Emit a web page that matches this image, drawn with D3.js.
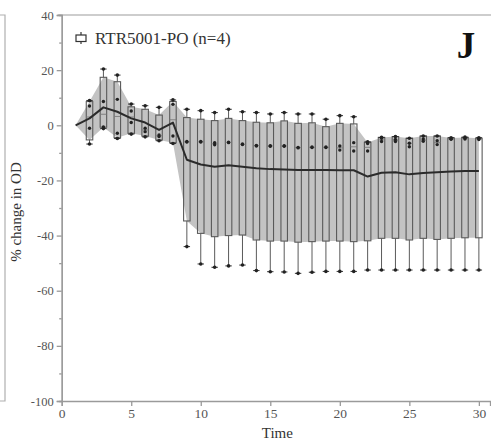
<!DOCTYPE html>
<html>
<head>
<meta charset="utf-8">
<script src="https://cdn.jsdelivr.net/npm/d3@7"></script>
<style>
  html, body { margin: 0; padding: 0; background: #fff; }
  svg { display: block; }
</style>
</head>
<body>
<svg id="chart" width="491" height="445"></svg>
<script>
// Series label and panel letter
const seriesName = "RTR5001-PO (n=4)";
const panelLetter = "J";

// Baseline reading (time 1) before the box-plotted samples
const startTime = 1;
const startValue = 0;

// Times with a box plot
const times = [2, 3, 4, 5, 6, 7, 8, 9, 10, 11, 12, 13, 14, 15, 16, 17, 18, 19, 20, 21, 22, 23, 24, 25, 26, 27, 28, 29, 30];

// Box plot statistics (% change in OD)
const maxVals = [9.0, 20.4, 18.2, 7.7, 7.1, 6.5, 9.2, 5.8, 5.3, 4.6, 5.8, 4.9, 4.6, 4.1, 4.6, 4.1, 4.1, 2.2, 3.5, 3.1, -6.0, -4.4, -4.1, -4.7, -3.9, -3.9, -4.5, -4.3, -4.5];
const q3Vals = [8.6, 17.4, 15.8, 6.7, 5.8, 3.7, 8.6, 2.8, 2.2, 1.7, 2.5, 1.7, 1.1, 0.9, 1.6, 0.7, 0.9, -0.5, 0.7, 0.5, -6.2, -4.4, -4.1, -4.7, -3.9, -3.9, -4.6, -4.4, -4.7];
const medianVals = [3.0, 4.0, 3.2, 3.0, -1.7, -3.8, 2.0, -6.0, -6.0, -6.7, -6.2, -6.9, -7.4, -7.5, -7.5, -8.1, -8.0, -8.0, -8.2, -7.8, -8.0, -5.3, -5.5, -6.5, -5.4, -6.3, -5.0, -4.8, -5.0];
const q1Vals = [-5.3, -0.7, -4.5, -2.9, -3.9, -5.3, -6.3, -34.7, -39.2, -40.4, -40.0, -39.8, -41.6, -42.0, -42.0, -42.4, -42.2, -42.0, -42.0, -42.2, -41.9, -41.0, -41.0, -41.6, -41.0, -41.4, -41.0, -40.8, -40.8];
const minVals = [-6.8, -1.2, -4.8, -3.2, -4.2, -5.6, -6.6, -44.0, -50.3, -51.5, -51.0, -50.7, -52.7, -53.1, -53.2, -53.7, -53.3, -53.0, -53.0, -53.0, -52.5, -52.5, -52.5, -52.5, -52.5, -52.5, -52.5, -52.5, -52.5];

// The two middle observations at each time
const innerA = [7.0, 8.6, 9.4, 5.2, -1.1, -3.5, 7.6, -5.9, -5.9, -6.3, -6.1, -6.8, -7.3, -7.4, -7.4, -8.0, -7.9, -7.9, -7.5, -6.3, -6.6, -4.7, -5.1, -6.5, -5.0, -5.6, -4.9, -4.6, -4.8];
const innerB = [-1.1, -0.6, -2.9, 1.0, -2.3, -4.1, -3.9, -6.1, -6.1, -7.1, -6.3, -7.0, -7.5, -7.6, -7.6, -8.2, -8.1, -8.1, -9.0, -9.3, -9.3, -5.9, -5.9, -7.8, -5.8, -7.0, -5.1, -5.0, -5.2];

// Mean response, times 1..30
const meanTimes = d3.range(1, 31);
const meanVals = [0, 2.5, 6.5, 4.9, 2.5, 1.0, -1.7, 1.0, -12.5, -14.2, -15.0, -14.5, -15.0, -15.6, -15.9, -16.0, -16.2, -16.2, -16.2, -16.3, -16.3, -18.6, -17.2, -17.0, -17.8, -17.3, -17.0, -16.8, -16.6, -16.6];

// Axis ticks
const yMajorTicks = [40, 20, 0, -20, -40, -60, -80, -100];
const yMinorTicks = [30, 10, -10, -30, -50, -70, -90];
const xMajorTicks = [0, 5, 10, 15, 20, 25, 30];

const serif = '"Liberation Serif", "Times New Roman", "DejaVu Serif", serif';

const svg = d3.select("#chart");
const W = 491, H = 445;
const m = { left: 61.7, right: 1, top: 15, bottom: 44 };

const x = d3.scaleLinear().domain([0, 30.8]).range([m.left, W - m.right]);
const y = d3.scaleLinear().domain([-100, 40]).range([H - m.bottom, m.top]);

const axisColor = "#9a9a9a";
const boxStroke = "#5a5a5a";

// Edge of the neighbouring panel on the left
svg.append("path")
  .attr("d", `M0,${y(40)}H5V${y(-100)}H0`)
  .attr("fill", "none").attr("stroke", "#b0b0b0").attr("stroke-width", 1.2);

// Top frame line
svg.append("line")
  .attr("x1", m.left - 4).attr("x2", W)
  .attr("y1", y(40)).attr("y2", y(40))
  .attr("stroke", "#bdbdbd").attr("stroke-width", 1.5);

// Rows used by the band and boxes
const rows = times.map((t, i) => ({
  t, max: maxVals[i], q3: q3Vals[i], med: medianVals[i], q1: q1Vals[i], min: minVals[i],
  a: innerA[i], b: innerB[i]
}));

// Interquartile band
const bandRows = [{ t: startTime, q1: startValue, q3: startValue }].concat(rows);
svg.append("path")
  .datum(bandRows)
  .attr("fill", "#c3c3c3")
  .attr("d", d3.area().x(d => x(d.t)).y0(d => y(d.q1)).y1(d => y(d.q3)));

// Box plots
const bw = 6.5;
const g = svg.append("g").selectAll("g").data(rows).join("g");

// whiskers
g.append("line")
  .attr("x1", d => x(d.t)).attr("x2", d => x(d.t))
  .attr("y1", d => y(d.max)).attr("y2", d => y(d.q3))
  .attr("stroke", boxStroke).attr("stroke-width", 1);
g.append("line")
  .attr("x1", d => x(d.t)).attr("x2", d => x(d.t))
  .attr("y1", d => y(d.q1)).attr("y2", d => y(d.min))
  .attr("stroke", boxStroke).attr("stroke-width", 1);

// boxes
g.append("rect")
  .attr("x", d => x(d.t) - bw / 2)
  .attr("width", bw)
  .attr("y", d => y(d.q3))
  .attr("height", d => Math.max(0.5, y(d.q1) - y(d.q3)))
  .attr("fill", "none")
  .attr("stroke", boxStroke).attr("stroke-width", 1.1);

// medians
g.append("line")
  .attr("x1", d => x(d.t) - bw / 2).attr("x2", d => x(d.t) + bw / 2)
  .attr("y1", d => y(d.med)).attr("y2", d => y(d.med))
  .attr("stroke", "#7a7a7a").attr("stroke-width", 0.9);

// whisker end markers
for (const key of ["max", "min"]) {
  g.append("line")
    .attr("x1", d => x(d.t) - 3.2).attr("x2", d => x(d.t) + 3.2)
    .attr("y1", d => y(d[key])).attr("y2", d => y(d[key]))
    .attr("stroke", "#333").attr("stroke-width", 1);
  g.append("circle")
    .attr("cx", d => x(d.t)).attr("cy", d => y(d[key]))
    .attr("r", 1.8).attr("fill", "#222");
}

// inner observations
for (const key of ["a", "b"]) {
  g.append("circle")
    .attr("cx", d => x(d.t)).attr("cy", d => y(d[key]))
    .attr("r", 1.7).attr("fill", "#222");
}

// Mean line
svg.append("path")
  .datum(meanTimes.map((t, i) => [t, meanVals[i]]))
  .attr("fill", "none")
  .attr("stroke", "#2b2b2b").attr("stroke-width", 2)
  .attr("stroke-linejoin", "round")
  .attr("d", d3.line().x(d => x(d[0])).y(d => y(d[1])));

// Y axis
const yAxis = svg.append("g")
  .attr("transform", `translate(${m.left},0)`)
  .call(d3.axisLeft(y).tickValues(yMajorTicks).tickSize(5).tickPadding(3).tickFormat(d => String(d)));
yAxis.append("g")
  .call(d3.axisLeft(y).tickValues(yMinorTicks).tickSize(2.5).tickFormat(""));

// X axis
const xAxis = svg.append("g")
  .attr("transform", `translate(0,${y(-100)})`)
  .call(d3.axisBottom(x).tickValues(xMajorTicks).tickSize(5).tickPadding(2).tickFormat(d => String(d)));

yAxis.attr("font-family", serif).attr("font-size", 12.5);
xAxis.attr("font-family", serif).attr("font-size", 13.5);
for (const ax of [yAxis, xAxis]) {
  ax.selectAll(".domain, line").attr("stroke", axisColor).attr("stroke-width", 1.3);
  ax.selectAll("text").attr("fill", "#555");
}

// Axis titles
svg.append("text")
  .attr("transform", `translate(21,${(y(40) + y(-100)) / 2 + 4}) rotate(-90)`)
  .attr("text-anchor", "middle")
  .attr("fill", "#333")
  .attr("font-family", serif)
  .attr("font-size", 15)
  .text("% change in OD");

svg.append("text")
  .attr("x", (m.left + W) / 2 + 1)
  .attr("y", 438)
  .attr("text-anchor", "middle")
  .attr("fill", "#333")
  .attr("font-family", serif)
  .attr("font-size", 15)
  .text("Time");

// Legend
const lg = svg.append("g").attr("transform", "translate(81,38)");
lg.append("line").attr("y1", -6).attr("y2", 6).attr("stroke", "#333").attr("stroke-width", 1.2);
lg.append("rect").attr("x", -5).attr("y", -3).attr("width", 10).attr("height", 6.5)
  .attr("fill", "#fff").attr("stroke", "#333").attr("stroke-width", 1.2);
svg.append("text")
  .attr("x", 95).attr("y", 44)
  .attr("fill", "#333")
  .attr("font-family", serif)
  .attr("font-size", 17)
  .text(seriesName);

// Panel letter
svg.append("text")
  .attr("x", 466).attr("y", 58)
  .attr("text-anchor", "middle")
  .attr("fill", "#111")
  .attr("font-family", serif)
  .attr("font-size", 37)
  .attr("font-weight", "bold")
  .text(panelLetter);
</script>
</body>
</html>
